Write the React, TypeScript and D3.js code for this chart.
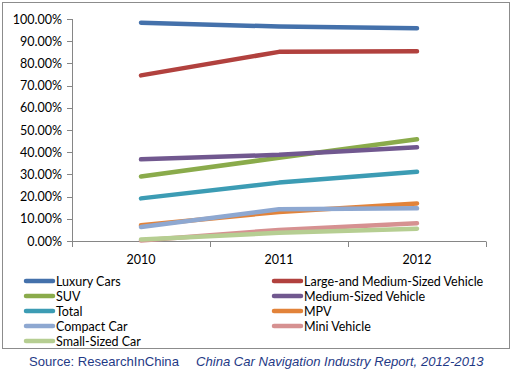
import React, { useEffect, useRef } from 'react';
import * as d3 from 'd3';

const years = ['2010', '2011', '2012'];
const seriesNames = [
  'Luxury Cars',
  'Large-and Medium-Sized Vehicle',
  'SUV',
  'Medium-Sized Vehicle',
  'Total',
  'MPV',
  'Compact Car',
  'Mini Vehicle',
  'Small-Sized Car',
];
const luxury = [98.3, 96.6, 95.8];
const largeMedium = [74.6, 85.2, 85.5];
const suv = [29.1, 37.5, 45.8];
const mediumSized = [36.8, 38.8, 42.2];
const total = [19.2, 26.3, 31.2];
const mpv = [7.1, 13.1, 16.9];
const compact = [6.3, 14.3, 14.7];
const mini = [0.2, 5.0, 8.0];
const smallSized = [0.7, 3.7, 5.5];
const seriesValues = [luxury, largeMedium, suv, mediumSized, total, mpv, compact, mini, smallSized];
const colors = ['#4471AB', '#B1413E', '#8AAB4B', '#71588F', '#3C9CB4', '#E2833A', '#8EA8D1', '#D69191', '#B6CE92'];
const yTicks = [0, 10, 20, 30, 40, 50, 60, 70, 80, 90, 100];

const App: React.FC = () => {
  const svgRef = useRef<SVGSVGElement>(null);

  useEffect(() => {
    if (!svgRef.current) return;
    const svg = d3.select(svgRef.current);
    svg.selectAll('*').remove();

    const font = 'Lato, "Open Sans", sans-serif';

    // outer frame
    svg.append('rect')
      .attr('x', 2.5).attr('y', 2.5)
      .attr('width', 507).attr('height', 346)
      .attr('fill', '#fff').attr('stroke', '#8c8c8c');

    const x = d3.scaleBand().domain(years).range([72, 486]);
    const y = d3.scaleLinear().domain([0, 100]).range([241, 19]);

    // y axis
    svg.append('line')
      .attr('x1', 72.5).attr('x2', 72.5)
      .attr('y1', y(100)).attr('y2', y(0))
      .attr('stroke', '#868686');
    yTicks.forEach(t => {
      svg.append('line')
        .attr('x1', 67).attr('x2', 72.5)
        .attr('y1', Math.round(y(t)) + 0.5).attr('y2', Math.round(y(t)) + 0.5)
        .attr('stroke', '#868686');
      svg.append('text')
        .attr('x', 62).attr('y', y(t) + 4.5)
        .attr('text-anchor', 'end')
        .attr('font-family', font).attr('font-size', 12.5)
        .attr('fill', '#000')
        .text(t.toFixed(2) + '%');
    });

    // x axis
    svg.append('line')
      .attr('x1', 72).attr('x2', 486)
      .attr('y1', 241.5).attr('y2', 241.5)
      .attr('stroke', '#868686');
    const edges = [...years.map(yr => x(yr)!), 486];
    edges.forEach(e => {
      svg.append('line')
        .attr('x1', Math.round(e) + 0.5).attr('x2', Math.round(e) + 0.5)
        .attr('y1', 241.5).attr('y2', 247)
        .attr('stroke', '#868686');
    });
    years.forEach(yr => {
      svg.append('text')
        .attr('x', x(yr)! + x.bandwidth() / 2).attr('y', 264)
        .attr('text-anchor', 'middle')
        .attr('font-family', font).attr('font-size', 12.5)
        .text(yr);
    });

    // lines
    const line = d3.line<number>()
      .x((_, i) => x(years[i])! + x.bandwidth() / 2)
      .y(d => y(d));

    seriesValues.forEach((vals, i) => {
      svg.append('path')
        .attr('d', line(vals) || '')
        .attr('fill', 'none')
        .attr('stroke', colors[i])
        .attr('stroke-width', 4.5)
        .attr('stroke-linecap', 'round')
        .attr('stroke-linejoin', 'round');
    });

    // legend
    seriesNames.forEach((name, i) => {
      const col = i % 2;
      const row = Math.floor(i / 2);
      const lx = col === 0 ? 26 : 274;
      const ly = 281 + row * 15;
      svg.append('line')
        .attr('x1', lx).attr('x2', lx + 27)
        .attr('y1', ly).attr('y2', ly)
        .attr('stroke', colors[i]).attr('stroke-width', 4.5)
        .attr('stroke-linecap', 'round');
      svg.append('text')
        .attr('x', lx + 30).attr('y', ly + 4.5)
        .attr('font-family', font).attr('font-size', 12.5)
        .text(name);
    });

    // source
    const src = svg.append('text')
      .attr('x', 29).attr('y', 366)
      .attr('font-family', '"Liberation Sans", Arial, sans-serif')
      .attr('font-size', 13.1)
      .attr('fill', '#1F3A86');
    src.append('tspan').text('Source: ResearchInChina');
    src.append('tspan').attr('x', 196).attr('font-style', 'italic')
      .text('China Car Navigation Industry Report, 2012-2013');
  }, []);

  return (
    <div style={{ position: 'absolute', left: 0, top: 0 }}>
      <svg ref={svgRef} width={512} height={371} style={{ display: 'block' }}></svg>
    </div>
  );
};

export default App;
